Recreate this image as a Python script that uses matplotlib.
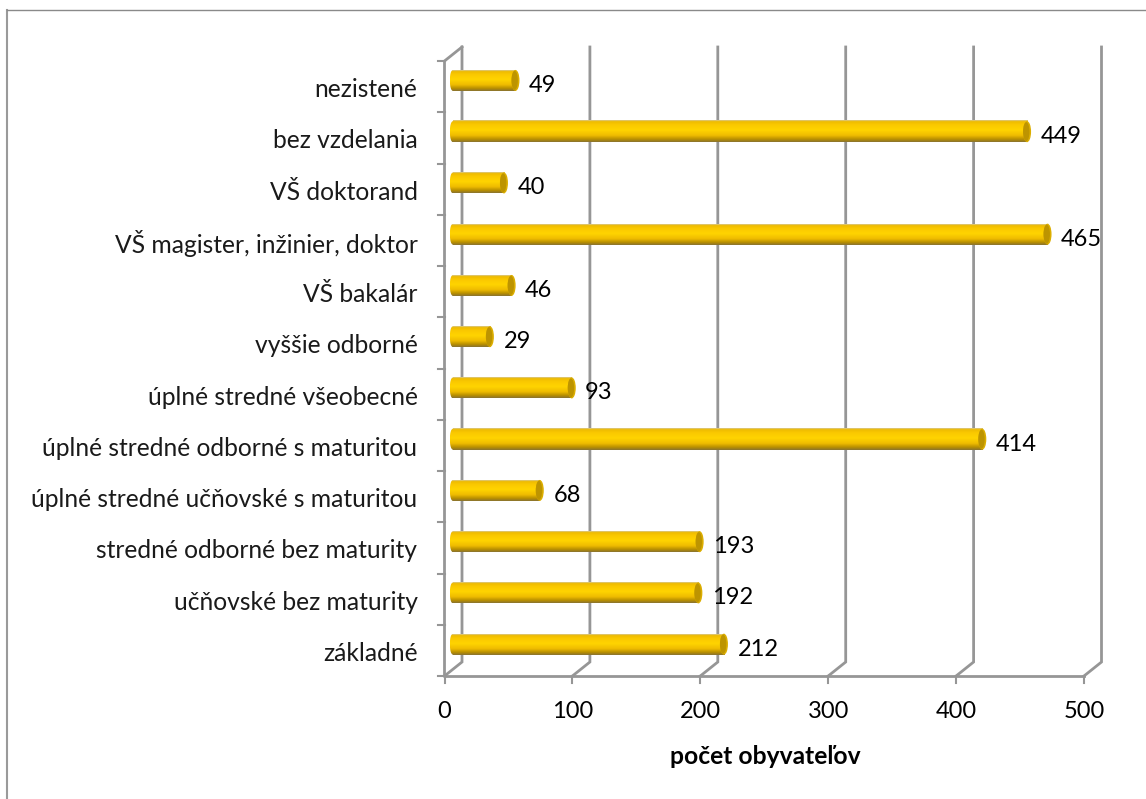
import numpy as np
import matplotlib
matplotlib.use("Agg")
import matplotlib.pyplot as plt
from matplotlib.colors import LinearSegmentedColormap
from matplotlib.patches import Ellipse

plt.rcParams["font.family"] = ["Lato", "DejaVu Sans"]

categories = [
    "základné",
    "učňovské bez maturity",
    "stredné odborné bez maturity",
    "úplné stredné učňovské s maturitou",
    "úplné stredné odborné s maturitou",
    "úplné stredné všeobecné",
    "vyššie odborné",
    "VŠ bakalár",
    "VŠ magister, inžinier, doktor",
    "VŠ doktorand",
    "bez vzdelania",
    "nezistené",
]
values = [212, 192, 193, 68, 414, 93, 29, 46, 465, 40, 449, 49]
xticks = [0, 100, 200, 300, 400, 500]
xlabel = "počet obyvateľov"

W, H = 1146, 799
GRID = "#969696"

# front plane of the fake 3d box, in pixels
left, right, top, bottom = 444.5, 1084, 61, 676
dx_px, dy_px = 17.5, 14

fig = plt.figure(figsize=(W / 100, H / 100), dpi=100)
ax = fig.add_axes([left / W, 1 - bottom / H, (right - left) / W, (bottom - top) / H])
ax.axis("off")

px_x = 500 / (right - left)
px_y = 12 / (bottom - top)
dx = dx_px * px_x
dy = dy_px * px_y

# chart area border
fig.add_artist(plt.Line2D([7 / W, 7 / W], [0, 1 - 9.5 / H], color="#9a9a9a", lw=1.5))
fig.add_artist(plt.Line2D([7 / W, 1], [1 - 9.5 / H, 1 - 9.5 / H], color="#8a8a8a", lw=1))

# back wall gridlines and floor
for t in xticks:
    ax.plot([t, t + dx, t + dx], [-0.5, -0.5 + dy, 11.5 + dy], color=GRID, lw=2, clip_on=False, solid_joinstyle="miter")
ax.plot([0, 0, dx], [-0.5, 11.5, 11.5 + dy], color=GRID, lw=2, clip_on=False, solid_joinstyle="miter")
ax.plot([0, 500], [-0.5, -0.5], color=GRID, lw=2, clip_on=False)

# tick marks
for i in range(13):
    ax.plot([-7 * px_x, 0], [i - 0.5, i - 0.5], color=GRID, lw=1.5, clip_on=False)
for t in xticks:
    ax.plot([t, t], [-0.5, -0.5 - 7 * px_y], color=GRID, lw=1.5, clip_on=False)

# cylinder shading, top to bottom
shade = LinearSegmentedColormap.from_list(
    "cyl",
    [
        (0.0, "#d8c890"),
        (0.06, "#eebb00"),
        (0.2, "#fac800"),
        (0.45, "#ffd400"),
        (0.7, "#efbc00"),
        (0.88, "#b88e00"),
        (1.0, "#8a7430"),
    ],
)
grad = np.linspace(0, 1, 64).reshape(-1, 1)
bar_h = 21 * px_y
cap_l = 3 * px_x
cap_r = 4 * px_x

for i, v in enumerate(values):
    yc = i + 6.2 * px_y
    x0 = 8.3 * px_x
    x1 = x0 + v
    y0 = yc - bar_h / 2
    # left end, rounded
    im2 = ax.imshow(grad, cmap=shade, aspect="auto", extent=[x0 - cap_l, x0, y0, y0 + bar_h], zorder=3)
    im2.set_clip_path(Ellipse((x0, yc), 2 * cap_l, bar_h, transform=ax.transData))
    # body
    ax.imshow(grad, cmap=shade, aspect="auto", extent=[x0, x1, y0, y0 + bar_h], zorder=3)
    # right end cap, darker face with a light rim
    ax.add_patch(Ellipse((x1, yc), 2 * cap_r, bar_h, facecolor="#dcae00", edgecolor="none", zorder=4))
    ax.add_patch(Ellipse((x1 - 0.8 * px_x, yc), 2 * cap_r - 1.6 * px_x, bar_h - 2 * px_y, facecolor="#bd9400", edgecolor="none", zorder=4))
    ax.text(x1 + 13.5 * px_x, yc - 5 * px_y, str(v), ha="left", va="center", fontsize=17, color="black", zorder=5)
    ax.text(-27 * px_x, i - 0.06, categories[i], ha="right", va="center", fontsize=17.7, color="#1a1a1a")

ax.set_xlim(0, 500)
ax.set_ylim(-0.5, 11.5)

for t in xticks:
    ax.text(t, -0.5 - 36 * px_y, str(t), ha="center", va="center", fontsize=17, color="black")

ax.text(250 + 0.5, -0.5 - 80 * px_y, xlabel, ha="center", va="center", fontsize=17.7, fontweight="bold", color="black")

fig.savefig("out.png", dpi=100)
